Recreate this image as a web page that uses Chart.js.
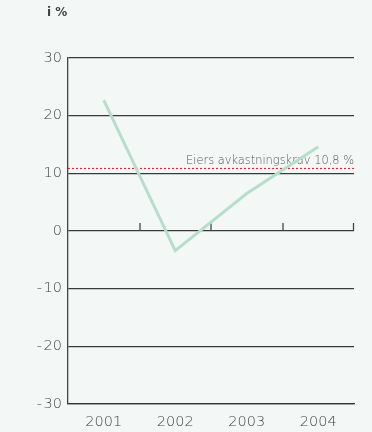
<!DOCTYPE html>
<html>
<head>
<meta charset="utf-8">
<script src="https://cdn.jsdelivr.net/npm/chart.js@4.4.1/dist/chart.umd.min.js"></script>
<style>
  html, body { margin: 0; padding: 0; background: #f3f8f6; }
  #wrap { width: 372px; height: 432px; }
</style>
</head>
<body>
<div id="wrap"><canvas id="chart" width="372" height="432"></canvas></div>
<script>
// Data
const years = ["2001", "2002", "2003", "2004"];
const avkastning = [22.7, -3.4, 6.5, 14.6];
const eiersKrav = 10.8;
const kravLabel = "Eiers avkastningskrav 10,8 %";
const yTicks = [30, 20, 10, 0, -10, -20, -30];

const fontFam = "'DejaVu Sans', sans-serif";

// background, unit title, owner requirement line and zero-line ticks
const extras = {
    id: "extras",
    beforeDraw(chart) {
        const ctx = chart.ctx;
        ctx.save();
        ctx.fillStyle = "#f3f8f6";
        ctx.fillRect(0, 0, chart.width, chart.height);
        ctx.restore();
    },
    beforeDatasetsDraw(chart) {
        const ctx = chart.ctx;
        const x = chart.scales.x;
        const y = chart.scales.y;
        const area = chart.chartArea;

        // ticks on zero line between categories
        const y0 = y.getPixelForValue(0);
        ctx.save();
        ctx.strokeStyle = "#444";
        ctx.lineWidth = 1.3;
        for (let i = 0; i < years.length; i++) {
            const next = i < years.length - 1 ? x.getPixelForValue(i + 1) : 2 * area.right - x.getPixelForValue(i);
            const xx = Math.min(Math.round((x.getPixelForValue(i) + next) / 2), area.right - 0.5);
            ctx.beginPath();
            ctx.moveTo(xx, y0);
            ctx.lineTo(xx, y0 - 8);
            ctx.stroke();
        }

        // dotted requirement line
        const yk = Math.round(y.getPixelForValue(eiersKrav)) - 0.5;
        ctx.strokeStyle = "#e8262c";
        ctx.lineWidth = 1.2;
        ctx.setLineDash([2, 2]);
        ctx.beginPath();
        ctx.moveTo(area.left, yk);
        ctx.lineTo(area.right, yk);
        ctx.stroke();
        ctx.setLineDash([]);

        ctx.fillStyle = "#555";
        ctx.font = "200 11.4px " + fontFam;
        ctx.textAlign = "right";
        ctx.textBaseline = "alphabetic";
        ctx.fillText(kravLabel, area.right, yk - 5);
        ctx.restore();
    },
    afterDraw(chart) {
        const ctx = chart.ctx;
        ctx.save();
        ctx.fillStyle = "#444";
        ctx.font = "bold 12px " + fontFam;
        ctx.textAlign = "left";
        ctx.textBaseline = "middle";
        ctx.fillText("i %", 47, 13);
        ctx.restore();
    }
};

new Chart(document.getElementById("chart"), {
    type: "line",
    data: {
        labels: years,
        datasets: [{
            data: avkastning,
            borderColor: "#b7decc",
            borderWidth: 3,
            pointRadius: 0,
            tension: 0,
            fill: false
        }]
    },
    options: {
        responsive: false,
        animation: false,
        layout: { padding: { left: 0, right: 18, top: 58, bottom: 0 } },
        plugins: { legend: { display: false }, tooltip: { enabled: false } },
        scales: {
            x: {
                offset: true,
                grid: { display: false, drawTicks: false },
                border: { display: true, color: "#333", width: 1.3 },
                ticks: { color: "#444", padding: 10, font: { family: fontFam, size: 14.5, weight: 200 } },
                afterFit(scale) { scale.height = 28; }
            },
            y: {
                min: -30,
                max: 30,
                afterBuildTicks(scale) { scale.ticks = yTicks.map(v => ({ value: v })); },
                grid: { color: "#3a3a3a", lineWidth: 1.3, drawTicks: false },
                border: { display: true, color: "#444", width: 1.3 },
                ticks: {
                    color: "#444",
                    padding: 6,
                    font: { family: fontFam, size: 14.5, weight: 200 },
                    callback: v => (v < 0 ? "-\u200a" + Math.abs(v) : String(v))
                },
                afterFit(scale) { scale.width = 68; }
            }
        }
    },
    plugins: [extras]
});
</script>
</body>
</html>
